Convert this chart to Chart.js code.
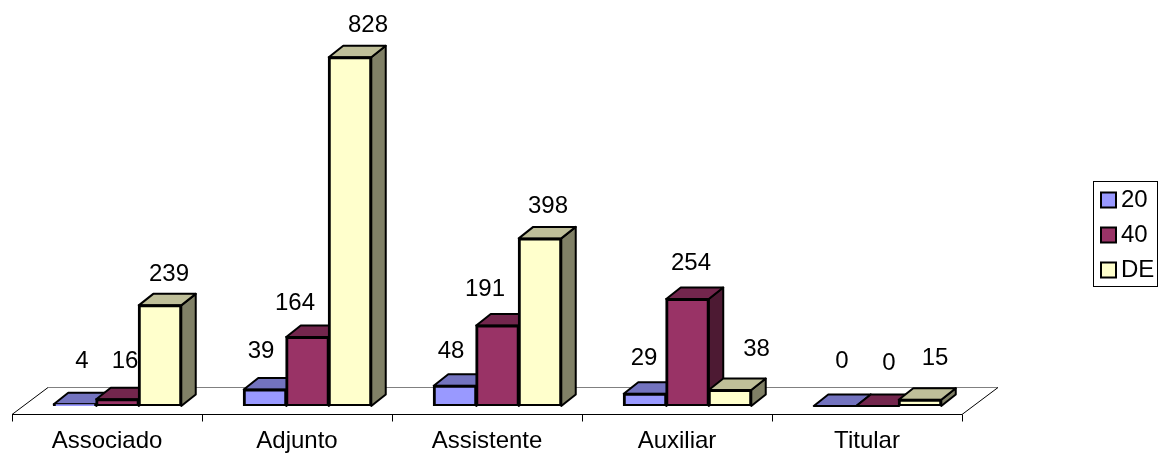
<!DOCTYPE html>
<html>
<head>
<meta charset="utf-8">
<title>Grafico</title>
<script src="https://cdn.jsdelivr.net/npm/chart.js@4"></script>
<style>
  body { margin: 0; background: #fff; }
  canvas { display: block; }
</style>
</head>
<body>
<canvas id="grafico" width="1160" height="453"></canvas>
<script>
// Dados
const categorias = ["Associado", "Adjunto", "Assistente", "Auxiliar", "Titular"];
const valores20 = [4, 39, 48, 29, 0];
const valores40 = [16, 164, 191, 254, 0];
const valoresDE = [239, 828, 398, 38, 15];

// Cores de cada serie: frente, topo, lado
const cores = [
  { frente: "#9999FF", topo: "#7373BF", lado: "#4D4D80" },
  { frente: "#993366", topo: "#73264D", lado: "#4D1A33" },
  { frente: "#FFFFCC", topo: "#BFBF99", lado: "#808066" },
];

// Rotulos foram movidos a mao no original, por isso o deslocamento por barra
const rotuloDx = [[7, -4, -4, -1, 7], [7.5, -12.5, -12.5, 3.5, 11.5], [9, 18, 8, 26.5, 15]];
const rotuloDy = [[-43, -38, -34, -35, -45], [-38, -34, -36, -36, -43], [-31, -32, -32, -41, -41]];

const fonte = "Liberation Sans, Arial, sans-serif";
const tamanhoFonte = 24;
const profX = 14.5, profY = -11.5; // profundidade da barra
const pisoX = 36, pisoY = -27; // profundidade do piso
const recuoX = 10.5, recuoY = 8.5; // barra fica no meio do piso

const efeito3d = {
  id: "efeito3d",
  afterLayout(chart) {
    // legenda fica fora da area do grafico
    const leg = chart.legend;
    leg.left = 1097; leg.right = 1158;
    leg.top = 177; leg.bottom = 330;
    leg.adjustHitBoxes();
  },
  beforeDatasetsDraw(chart) {
    const { ctx, scales: { x, y } } = chart;
    const base = y.getPixelForValue(0);
    const x0 = x.left - recuoX, y0 = base + recuoY;
    const x1 = x.right - recuoX;
    ctx.save();

    // piso
    ctx.lineWidth = 1;
    ctx.strokeStyle = "#808080";
    ctx.beginPath();
    ctx.moveTo(x0 + pisoX, y0 + pisoY);
    ctx.lineTo(x1 + pisoX, y0 + pisoY);
    ctx.stroke();
    ctx.strokeStyle = "#000";
    ctx.beginPath();
    ctx.moveTo(x0, y0);
    ctx.lineTo(x0 + pisoX, y0 + pisoY);
    ctx.moveTo(x1, y0);
    ctx.lineTo(x1 + pisoX, y0 + pisoY);
    ctx.moveTo(x0, y0);
    ctx.lineTo(x1, y0);
    for (let i = 0; i <= categorias.length; i++) {
      const t = x0 + i * x.width / categorias.length + 0.5;
      ctx.moveTo(t, y0);
      ctx.lineTo(t, y0 + 7);
    }
    ctx.stroke();

    // lado e topo das barras
    ctx.lineWidth = 2;
    ctx.strokeStyle = "#000";
    ctx.lineJoin = "round";
    chart.data.datasets.forEach((ds, d) => {
      chart.getDatasetMeta(d).data.forEach((barra) => {
        const e = barra.x - barra.width / 2, r = barra.x + barra.width / 2;
        const t = barra.y, b = barra.base;
        ctx.fillStyle = cores[d].lado;
        ctx.beginPath();
        ctx.moveTo(r, t);
        ctx.lineTo(r + profX, t + profY);
        ctx.lineTo(r + profX, b + profY);
        ctx.lineTo(r, b);
        ctx.closePath();
        ctx.fill();
        ctx.stroke();
        ctx.fillStyle = cores[d].topo;
        ctx.beginPath();
        ctx.moveTo(e, t);
        ctx.lineTo(e + profX, t + profY);
        ctx.lineTo(r + profX, t + profY);
        ctx.lineTo(r, t);
        ctx.closePath();
        ctx.fill();
        ctx.stroke();
      });
    });
    ctx.restore();
  },
  afterDraw(chart) {
    const { ctx } = chart;
    ctx.save();

    // rotulos de valor
    ctx.font = tamanhoFonte + "px " + fonte;
    ctx.fillStyle = "#000";
    ctx.textAlign = "center";
    ctx.textBaseline = "middle";
    chart.data.datasets.forEach((ds, d) => {
      chart.getDatasetMeta(d).data.forEach((barra, i) => {
        ctx.fillText(ds.data[i], barra.x + rotuloDx[d][i], barra.y + rotuloDy[d][i]);
      });
    });

    // moldura da legenda
    ctx.strokeStyle = "#000";
    ctx.lineWidth = 1;
    ctx.strokeRect(1093.5, 181.5, 64, 105);
    ctx.restore();
  },
};

new Chart(document.getElementById("grafico"), {
  type: "bar",
  data: {
    labels: categorias,
    datasets: [
      { label: "20", data: valores20, backgroundColor: cores[0].frente },
      { label: "40", data: valores40, backgroundColor: cores[1].frente },
      { label: "DE", data: valoresDE, backgroundColor: cores[2].frente },
    ],
  },
  options: {
    responsive: false,
    animation: false,
    layout: { padding: { left: 22.5, right: 187.5, top: 27, bottom: 0 } },
    datasets: {
      bar: {
        categoryPercentage: 0.671,
        barPercentage: 1,
        borderWidth: 3,
        inflateAmount: 1,
        borderColor: "#000",
        borderSkipped: false,
      },
    },
    scales: {
      x: {
        grid: { display: false, drawTicks: false },
        border: { display: false },
        afterFit(s) { s.height = 47; },
        ticks: {
          color: "#000",
          font: { family: fonte, size: tamanhoFonte },
          padding: 21,
          labelOffset: -recuoX,
          autoSkip: false,
          maxRotation: 0,
        },
      },
      y: { display: false, min: 0, max: 900 },
    },
    plugins: {
      tooltip: { enabled: false },
      legend: {
        position: "chartArea",
        align: "start",
        labels: {
          color: "#000",
          font: { family: fonte, size: tamanhoFonte },
          usePointStyle: true,
          boxWidth: 1,
          boxHeight: 15,
          padding: 11,
          generateLabels(chart) {
            return chart.data.datasets.map((ds, d) => ({
              text: ds.label,
              datasetIndex: d,
              fillStyle: cores[d].frente,
              strokeStyle: "#000",
              lineWidth: 2,
              pointStyle: "rect",
              fontColor: "#000",
            }));
          },
        },
      },
    },
  },
  plugins: [efeito3d],
});
</script>
</body>
</html>
